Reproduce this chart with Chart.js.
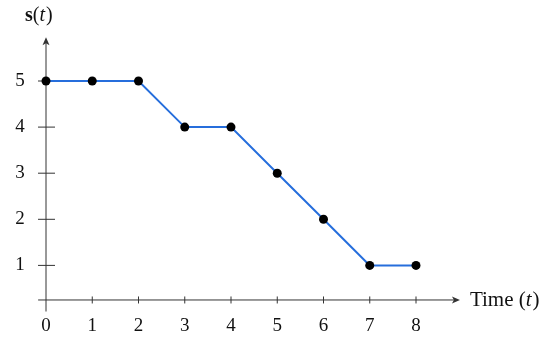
<!DOCTYPE html>
<html>
<head>
<meta charset="utf-8">
<script src="https://cdn.jsdelivr.net/npm/chart.js@4"></script>
<style>
  html, body { margin: 0; padding: 0; background: #fff; }
  #wrap { width: 550px; height: 348px; }
</style>
</head>
<body>
<div id="wrap"><canvas id="grafico"></canvas></div>
<script>
// data
const times = [0, 1, 2, 3, 4, 5, 6, 7, 8];
const values = [5, 5, 5, 4, 4, 3, 2, 1, 1];
const xTicks = [0, 1, 2, 3, 4, 5, 6, 7, 8];
const yTicks = [1, 2, 3, 4, 5];

const FONT = '"Liberation Serif", "DejaVu Serif", serif';

// axes with arrows, ticks and labels
const axesPlugin = {
  id: 'axes',
  beforeDatasetsDraw(chart) {
    const ctx = chart.ctx;
    const xs = chart.scales.x, ys = chart.scales.y;
    const x0 = xs.getPixelForValue(0);
    const yAxis = ys.getPixelForValue(0.25);
    ctx.save();
    ctx.strokeStyle = '#333';
    ctx.fillStyle = '#333';
    ctx.lineWidth = 1;

    // x axis
    const xStart = xs.getPixelForValue(-0.17), xEnd = xs.getPixelForValue(8.95);
    ctx.beginPath();
    ctx.moveTo(xStart, yAxis);
    ctx.lineTo(xEnd - 4, yAxis);
    ctx.stroke();
    ctx.beginPath();
    ctx.moveTo(xEnd, yAxis);
    ctx.lineTo(xEnd - 8, yAxis - 3.5);
    ctx.lineTo(xEnd - 6, yAxis);
    ctx.lineTo(xEnd - 8, yAxis + 3.5);
    ctx.closePath();
    ctx.fill();

    // y axis
    const yBottom = ys.getPixelForValue(0), yTop = ys.getPixelForValue(5.95);
    ctx.beginPath();
    ctx.moveTo(x0, yBottom);
    ctx.lineTo(x0, yTop + 4);
    ctx.stroke();
    ctx.beginPath();
    ctx.moveTo(x0, yTop);
    ctx.lineTo(x0 - 3.5, yTop + 8);
    ctx.lineTo(x0, yTop + 6);
    ctx.lineTo(x0 + 3.5, yTop + 8);
    ctx.closePath();
    ctx.fill();

    ctx.fillStyle = '#111';
    ctx.font = '19px ' + FONT;

    // x ticks
    ctx.textAlign = 'center';
    ctx.textBaseline = 'middle';
    xTicks.forEach(function(t) {
      const px = xs.getPixelForValue(t);
      if (t !== 0) {
        ctx.beginPath();
        ctx.moveTo(px, yAxis - 3.5);
        ctx.lineTo(px, yAxis + 3.5);
        ctx.stroke();
      }
      ctx.fillText(String(t), px, yAxis + 26);
    });

    // y ticks
    yTicks.forEach(function(t) {
      const py = ys.getPixelForValue(t);
      ctx.beginPath();
      ctx.moveTo(x0 - 8, py);
      ctx.lineTo(x0 + 9, py);
      ctx.stroke();
      ctx.fillText(String(t), x0 - 26, py);
    });

    // axis titles
    ctx.textAlign = 'left';
    ctx.textBaseline = 'alphabetic';
    let tx = xEnd + 10;
    const ty = yAxis + 6;
    ctx.font = '21px ' + FONT;
    ctx.fillText('Time (', tx, ty);
    tx += ctx.measureText('Time (').width;
    ctx.font = 'italic 21px ' + FONT;
    ctx.fillText('t', tx, ty);
    tx += ctx.measureText('t').width + 1;
    ctx.font = '21px ' + FONT;
    ctx.fillText(')', tx, ty);

    let sx = x0 - 21;
    const sy = 21;
    ctx.font = 'bold 20px ' + FONT;
    ctx.fillText('s', sx, sy);
    sx += ctx.measureText('s').width;
    ctx.font = '20px ' + FONT;
    ctx.fillText('(', sx, sy);
    sx += ctx.measureText('(').width;
    ctx.font = 'italic 20px ' + FONT;
    ctx.fillText('t', sx, sy);
    sx += ctx.measureText('t').width + 1;
    ctx.font = '20px ' + FONT;
    ctx.fillText(')', sx, sy);
    ctx.restore();
  }
};

const dataGrafico = {
  datasets: [{
    data: times.map(function(t, i) { return {x: t, y: values[i]}; }),
    borderColor: 'rgb(38, 110, 220)',
    borderWidth: 2,
    pointBackgroundColor: '#000',
    pointBorderColor: '#000',
    pointRadius: 4.5,
    pointBorderWidth: 0,
    tension: 0,
    clip: false
  }]
};

const config = {
  type: 'line',
  data: dataGrafico,
  options: {
    responsive: true,
    maintainAspectRatio: false,
    animation: false,
    layout: { padding: { left: 46, right: 134, top: 81, bottom: 36.5 } },
    scales: {
      x: { type: 'linear', min: 0, max: 8, display: false },
      y: { type: 'linear', min: 0, max: 5, display: false }
    },
    plugins: { legend: { display: false }, tooltip: { enabled: false } }
  },
  plugins: [axesPlugin]
};

var grafico = new Chart(document.getElementById('grafico'), config);
</script>
</body>
</html>
